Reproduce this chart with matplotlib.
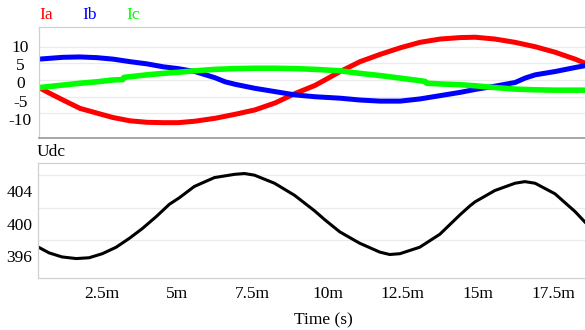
import matplotlib.pyplot as plt
import matplotlib.transforms as mtransforms

# time axis in ms
t_ia = [0.53, 0.90, 1.33, 1.90, 2.47, 3.00, 3.57, 4.13, 4.67, 5.17, 5.73, 6.40, 7.07, 7.73,
        8.40, 9.07, 9.73, 10.57, 11.23, 11.90, 12.57, 13.23, 13.90, 14.57, 15.07, 15.73,
        16.40, 17.07, 17.73, 18.40, 18.73]
ia = [-1.4, -3.0, -4.8, -7.1, -8.4, -9.6, -10.5, -10.9, -11.0, -11.0, -10.6, -9.8, -8.7, -7.5,
      -5.6, -3.0, -0.8, 3.0, 5.7, 7.7, 9.5, 11.0, 11.9, 12.3, 12.4, 11.9,
      11.0, 9.8, 8.3, 6.4, 5.3]

t_ib = [0.53, 1.33, 1.90, 2.47, 3.00, 3.57, 4.13, 4.67, 5.17, 5.73, 6.40, 6.73, 7.07, 7.73,
        8.40, 9.07, 9.73, 10.57, 11.23, 11.90, 12.57, 13.23, 13.90, 14.57, 15.07, 15.73,
        16.40, 16.73, 17.07, 17.73, 18.40, 18.73]
ib = [6.4, 6.9, 7.0, 6.8, 6.4, 5.7, 5.1, 4.3, 3.8, 3.0, 1.3, 0.2, -0.5, -1.6,
      -2.5, -3.4, -3.9, -4.3, -4.8, -5.1, -5.1, -4.5, -3.6, -2.7, -1.9, -1.0,
      0.0, 1.2, 2.1, 3.0, 4.1, 4.6]

t_ic = [0.53, 1.33, 1.90, 2.47, 3.00, 3.33, 3.36, 3.57, 4.13, 4.67, 5.17, 5.73, 6.40, 7.07,
        7.73, 8.40, 9.07, 9.73, 10.57, 11.23, 11.90, 12.57, 13.23, 13.40, 13.45, 13.90,
        14.57, 15.07, 15.73, 16.40, 17.07, 17.73, 18.40, 18.73]
ic = [-1.4, -0.7, -0.2, 0.2, 0.7, 0.8, 1.4, 1.6, 2.1, 2.5, 2.8, 3.2, 3.6, 3.8,
      3.9, 3.9, 3.8, 3.6, 3.2, 2.5, 1.9, 1.2, 0.5, 0.3, -0.2, -0.4,
      -0.6, -0.9, -1.4, -1.8, -2.0, -2.1, -2.1, -2.1]

t_udc = [0.50, 0.90, 1.33, 1.80, 2.23, 2.67, 3.13, 3.57, 4.00, 4.47, 4.90, 5.23, 5.73, 6.40,
         7.07, 7.40, 7.73, 8.40, 9.07, 9.73, 10.07, 10.57, 11.23, 11.90, 12.23, 12.57,
         13.23, 13.90, 14.57, 14.90, 15.07, 15.73, 16.40, 16.73, 17.07, 17.73, 18.40, 18.73]
udc = [397.2, 396.4, 395.9, 395.7, 395.8, 396.3, 397.1, 398.2, 399.4, 400.9, 402.4, 403.2, 404.6, 405.7,
       406.1, 406.2, 406.0, 405.0, 403.5, 401.6, 400.5, 399.0, 397.6, 396.5, 396.2, 396.3,
       397.1, 398.7, 401.1, 402.2, 402.7, 404.1, 405.0, 405.2, 405.0, 403.7, 401.5, 400.2]

xticks = [2.5, 5, 7.5, 10, 12.5, 15, 17.5]
xtick_labels = ['2.5m', '5m', '7.5m', '10m', '12.5m', '15m', '17.5m']
xgrid = [5, 7.5, 12.5, 15]

i_ticks = [10, 5, 0, -5, -10]
i_grid = [9.7, 5.3, 0.7, -4.0, -8.4]
u_ticks = [404, 400, 396]
u_grid = [406, 402, 398, 396]

plt.rcParams['font.family'] = 'Liberation Serif'
plt.rcParams['axes.unicode_minus'] = False
fs = 12.5
W, H = 585, 330
fig = plt.figure(figsize=(W / 100, H / 100), dpi=100)

ax1 = fig.add_axes([39 / W, 1 - 138 / H, 1 - 39 / W, 111 / H])
ax2 = fig.add_axes([38 / W, 1 - 278 / H, 1 - 38 / W, 115 / H])

ax1.plot(t_ia, ia, color='#ff0000', lw=3.6, solid_joinstyle='round')
ax1.plot(t_ib, ib, color='#0000ff', lw=3.6, solid_joinstyle='round')
ax1.plot(t_ic, ic, color='#00ff00', lw=4.0, solid_joinstyle='round')
ax1.set_ylim(-15.2, 15.2)
ax1.set_yticks(i_ticks)
ax1.set_yticks(i_grid, minor=True)

ax2.plot(t_udc, udc, color='black', lw=2.2, solid_joinstyle='round')
ax2.set_ylim(393.3, 407.5)
ax2.set_yticks(u_ticks)
ax2.set_yticks(u_grid, minor=True)

for ax in (ax1, ax2):
    ax.set_xlim(0.53, 18.73)
    ax.set_xticks(xticks)
    ax.set_xticks(xgrid, minor=True)
    ax.grid(False, which='major')
    ax.grid(True, which='minor', color='#ebebeb', lw=0.9)
    ax.tick_params(which='both', length=0)
    ax.tick_params(axis='y', labelsize=fs, pad=13.5)
    for lab in ax.get_yticklabels():
        lab.set_horizontalalignment('center')
    for s in ax.spines.values():
        s.set_color('#d0d0d0')
        s.set_linewidth(0.9)
    ax.spines['right'].set_visible(False)
    ax.set_axisbelow(True)

ax1.spines['bottom'].set_color('#a0a0a0')
ax1.spines['bottom'].set_linewidth(1.3)
ax1.set_xticklabels([])
ax2.set_xticklabels(xtick_labels)
ax2.tick_params(axis='x', labelsize=fs, pad=6)
offset = mtransforms.ScaledTranslation(5 / 100, 0, fig.dpi_scale_trans)
for lab in ax2.get_xticklabels():
    lab.set_transform(lab.get_transform() + offset)

fig.text(39 / W, 1 - 15 / H, 'Ia', color='#ff0000', fontsize=fs, va='center')
fig.text(82 / W, 1 - 15 / H, 'Ib', color='#0000ff', fontsize=fs, va='center')
fig.text(126 / W, 1 - 15 / H, 'Ic', color='#00ff00', fontsize=fs, va='center')
fig.text(37 / W, 1 - 152 / H, 'Udc', color='black', fontsize=fs, va='center')
fig.text(323 / W, 1 - 320 / H, 'Time (s)', color='black', fontsize=fs, ha='center', va='center')

fig.savefig('out.png', dpi=100)
